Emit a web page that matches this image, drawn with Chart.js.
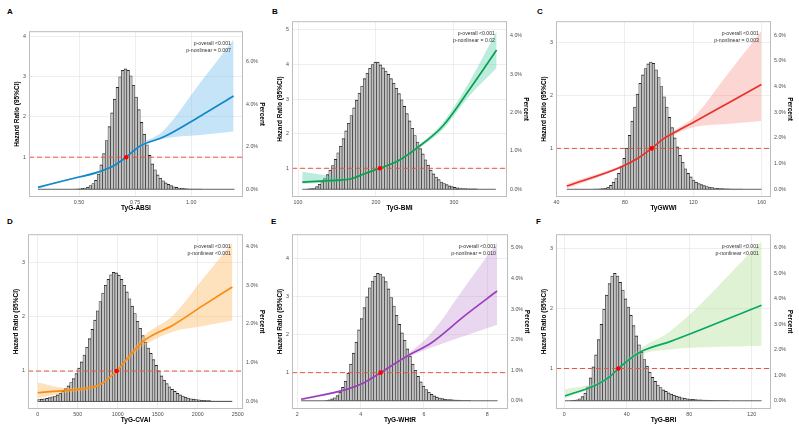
<!DOCTYPE html>
<html>
<head>
<meta charset="utf-8">
<title>TyG indices RCS</title>
<script src="https://cdn.jsdelivr.net/npm/chart.js@4.4.1/dist/chart.umd.min.js"></script>
<style>
  html, body { margin: 0; padding: 0; background: #fff; }
  body { width: 799px; height: 430px; position: relative; overflow: hidden; font-family: "Liberation Sans", Arial, sans-serif; }
  canvas { position: absolute; }
  .tag { position: absolute; font-size: 8px; line-height: 8px; font-weight: bold; color: #000; }
</style>
</head>
<body>
<div class="tag" style="left:7px;top:8px">A</div>
<div class="tag" style="left:272px;top:8px">B</div>
<div class="tag" style="left:537px;top:8px">C</div>
<div class="tag" style="left:7px;top:218px">D</div>
<div class="tag" style="left:271px;top:218px">E</div>
<div class="tag" style="left:536px;top:218px">F</div>
<script>
// ---- spline estimates: x, hazard ratio, 95% CI ----
const absiX  = [0.317, 0.45, 0.585, 0.653, 0.71, 0.772, 0.876, 1.04, 1.189];
const absiHR = [0.25, 0.44, 0.63, 0.78, 1.0, 1.28, 1.50, 2.02, 2.52];
const absiLo = [0.22, 0.42, 0.61, 0.76, 0.99, 1.24, 1.456, 1.55, 1.64];
const absiHi = [0.28, 0.46, 0.65, 0.80, 1.01, 1.32, 1.66, 2.85, 3.93];

const bmiX  = [105.5, 140, 166.7, 186, 205, 228.6, 252, 286, 320.5, 354.7];
const bmiHR = [0.6, 0.645, 0.69, 0.85, 1.0, 1.22, 1.575, 2.23, 3.30, 4.42];
const bmiLo = [0.55, 0.6, 0.665, 0.83, 0.99, 1.19, 1.53, 2.13, 3.11, 3.9];
const bmiHi = [0.9, 0.78, 0.705, 0.87, 1.01, 1.25, 1.62, 2.33, 3.53, 4.97];

const wwiX  = [46, 78.1, 87.8, 95.6, 102.4, 108.2, 119.9, 139.4, 159.8];
const wwiHR = [0.287, 0.653, 0.817, 1.0, 1.18, 1.287, 1.49, 1.84, 2.21];
const wwiLo = [0.24, 0.63, 0.8, 0.99, 1.15, 1.25, 1.40, 1.46, 1.52];
const wwiHi = [0.33, 0.68, 0.835, 1.01, 1.21, 1.33, 1.58, 2.38, 3.22];

const cvaiX  = [0, 362, 612, 779, 987, 1154, 1320, 1695, 2070, 2433];
const cvaiHR = [0.6, 0.643, 0.68, 0.75, 1.0, 1.286, 1.55, 1.85, 2.21, 2.55];
const cvaiLo = [0.5, 0.6, 0.65, 0.73, 0.98, 1.24, 1.46, 1.73, 1.83, 1.93];
const cvaiHi = [0.79, 0.69, 0.71, 0.77, 1.02, 1.33, 1.64, 2.03, 2.71, 3.37];

const whtrX  = [2.12, 3.56, 4.14, 4.63, 5.5, 6.24, 7.3, 8.31];
const whtrHR = [0.30, 0.56, 0.75, 1.0, 1.45, 1.79, 2.51, 3.15];
const whtrLo = [0.27, 0.54, 0.73, 0.99, 1.40, 1.66, 1.97, 2.26];
const whtrHi = [0.33, 0.58, 0.77, 1.01, 1.50, 2.05, 3.27, 4.43];

const briX  = [0.45, 20.7, 29.2, 34.6, 42, 50.6, 67.6, 126.3];
const briHR = [0.54, 0.73, 0.865, 1.0, 1.16, 1.30, 1.45, 2.06];
const briLo = [0.5, 0.71, 0.85, 0.99, 1.13, 1.25, 1.32, 1.38];
const briHi = [0.65, 0.76, 0.88, 1.01, 1.2, 1.37, 1.62, 3.13];

// reference value (HR = 1) for each index
const refX = [0.71, 205, 95.6, 987, 4.63, 34.6];

// ---- histograms: [first bin edge, bin width] and percent per bin ----
const absiBin = [0.317, 0.012];
const absiHist = [0,0,0,0,0,0,0,0,0,0,0,0,0,0,
  0.01,0.02,0.04,0.06,0.1,0.18,0.27,0.42,0.72,1.15,1.68,2.3,2.95,3.6,4.25,4.8,5.3,5.6,5.67,5.6,
  5.35,4.9,4.35,3.75,3.15,2.6,2.1,1.6,1.2,0.92,0.68,0.52,0.4,0.3,0.23,0.17,0.12,0.09,0.06,0.05,0.03,0.02,
  0.01,0.01,0.01,0.01,0.01,0,0,0,0,0,0,0,0,0,0,0,0];

const bmiBin = [105.5, 3.4];
const bmiHist = [0,0,0.01,0.02,0.03,0.07,0.13,0.2,0.28,0.38,0.5,0.62,0.78,0.95,1.12,1.32,1.52,1.72,1.92,2.12,
  2.32,2.5,2.69,2.88,3.02,3.15,3.25,3.31,3.31,3.24,3.16,3.08,2.99,2.88,2.76,2.63,2.49,2.33,2.16,1.97,
  1.78,1.59,1.40,1.23,1.06,0.92,0.77,0.63,0.5,0.4,0.32,0.25,0.19,0.15,0.12,0.09,0.07,0.05,0.04,0.03,
  0.02,0.02,0.01,0.01,0.01,0.01,0,0,0,0,0,0,0];

const wwiBin = [46, 1.56];
const wwiHist = [0,0,0,0,0,0,0,0,0,0,
  0.01,0.01,0.02,0.03,0.04,0.08,0.15,0.28,0.42,0.62,0.9,1.2,1.6,2.1,2.65,3.2,3.7,4.12,4.45,4.7,
  4.88,4.95,4.9,4.65,4.35,4.0,3.6,3.2,2.8,2.4,2.0,1.65,1.32,1.05,0.8,0.62,0.48,0.36,0.28,0.22,
  0.18,0.14,0.11,0.09,0.07,0.05,0.04,0.03,0.03,0.02,0.02,0.01,0.01,0.01,0.01,0.01,0,0,0,0,0,0,0];

const cvaiBin = [0, 33.3];
const cvaiHist = [0.05,0.06,0.07,0.08,0.1,0.12,0.14,0.17,0.21,0.26,0.33,0.4,0.49,0.59,0.72,0.86,1.02,1.2,1.4,1.62,
  1.86,2.1,2.34,2.58,2.8,3.0,3.15,3.27,3.33,3.32,3.26,3.15,3.0,2.83,2.65,2.46,2.27,2.07,1.89,1.7,
  1.53,1.38,1.24,1.08,0.93,0.79,0.66,0.55,0.46,0.38,0.31,0.26,0.21,0.17,0.14,0.11,0.09,0.07,0.06,0.05,
  0.04,0.03,0.03,0.02,0.02,0.01,0.01,0.01,0.01,0.01,0.01,0.01,0.01];

const whtrBin = [2.12, 0.085];
const whtrHist = [0,0,0,0,0,0,0,0,0,
  0.01,0.03,0.06,0.1,0.17,0.28,0.44,0.64,0.9,1.2,1.56,1.92,2.32,2.69,3.05,3.4,3.7,3.92,4.08,4.17,
  4.15,4.06,3.9,3.66,3.38,3.1,2.8,2.5,2.22,1.98,1.7,1.46,1.2,1.0,0.8,0.62,0.48,0.37,0.28,0.21,
  0.16,0.12,0.09,0.07,0.05,0.04,0.04,0.03,0.02,0.02,0.01,0.01,0.01,0.01,0,0,0,0,0,0,0,0,0,0];

const briBin = [0.45, 1.724];
const briHist = [0,0,0.01,0.02,0.04,0.08,0.16,0.3,0.55,0.9,1.33,1.8,2.4,3.0,3.6,4.15,4.6,4.9,5.0,4.9,
  4.65,4.35,4.0,3.68,3.35,2.95,2.55,2.2,1.9,1.62,1.36,1.12,0.92,0.76,0.62,0.52,0.43,0.37,0.31,0.26,
  0.22,0.18,0.15,0.12,0.1,0.08,0.07,0.06,0.05,0.04,0.04,0.03,0.03,0.02,0.02,
  0.01,0.01,0.01,0.01,0.01,0.01,0,0,0,0,0,0,0,0,0,0,0,0];

// ---- axes ----
const absiTicks = [0.5, 0.75, 1.0];   const absiTickLabels = ['0.50', '0.75', '1.00'];
const bmiTicks  = [100, 200, 300];    const bmiTickLabels  = ['100', '200', '300'];
const wwiTicks  = [40, 80, 120, 160]; const wwiTickLabels  = ['40', '80', '120', '160'];
const cvaiTicks = [0, 500, 1000, 1500, 2000, 2500];
const cvaiTickLabels = ['0', '500', '1000', '1500', '2000', '2500'];
const whtrTicks = [2, 4, 6, 8];       const whtrTickLabels = ['2', '4', '6', '8'];
const briTicks  = [0, 40, 80, 120];   const briTickLabels  = ['0', '40', '80', '120'];

const xTitles = ['TyG-ABSI', 'TyG-BMI', 'TyGWWI', 'TyG-CVAI', 'TyG-WHtR', 'TyG-BRI'];
const pOverall = ['p-overall <0.001', 'p-overall <0.001', 'p-overall <0.001',
                  'p-overall <0.001', 'p-overall <0.001', 'p-overall <0.001'];
const pNonlinear = ['p-nonlinear = 0.007', 'p-nonlinear = 0.02', 'p-nonlinear = 0.003',
                    'p-nonlinear <0.001', 'p-nonlinear = 0.010', 'p-nonlinear <0.001'];

const panels = [
  { box: [29, 25, 243, 197], x: absiX, hr: absiHR, lo: absiLo, hi: absiHi, bin: absiBin, hist: absiHist,
    xr: [0.277, 1.231], hrr: [0.01, 4.134], pr: [-0.364, 7.45], xt: absiTicks, xl: absiTickLabels,
    ht: [1, 2, 3, 4], pt: [0, 2, 4, 6], line: '#1287c9', band: 'rgba(120,190,235,0.42)' },
  { box: [292, 15, 507, 197], x: bmiX, hr: bmiHR, lo: bmiLo, hi: bmiHi, bin: bmiBin, hist: bmiHist,
    xr: [92.3, 368], hrr: [0.17, 5.254], pr: [-0.201, 4.377], xt: bmiTicks, xl: bmiTickLabels,
    ht: [1, 2, 3, 4, 5], pt: [0, 1, 2, 3, 4], line: '#0c9f4c', band: 'rgba(60,200,160,0.35)' },
  { box: [556, 15, 771, 197], x: wwiX, hr: wwiHR, lo: wwiLo, hi: wwiHi, bin: wwiBin, hist: wwiHist,
    xr: [39.7, 165.4], hrr: [0.08, 3.408], pr: [-0.30, 6.54], xt: wwiTicks, xl: wwiTickLabels,
    ht: [1, 2, 3], pt: [0, 1, 2, 3, 4, 5, 6], line: '#e8312b', band: 'rgba(245,120,110,0.3)' },
  { box: [28, 228, 243, 408.5], x: cvaiX, hr: cvaiHR, lo: cvaiLo, hi: cvaiHi, bin: cvaiBin, hist: cvaiHist,
    xr: [-121, 2566], hrr: [0.30, 3.523], pr: [-0.195, 4.318], xt: cvaiTicks, xl: cvaiTickLabels,
    ht: [1, 2, 3], pt: [0, 1, 2, 3, 4], line: '#fb8c12', band: 'rgba(253,180,90,0.4)' },
  { box: [292, 228, 508, 408.5], x: whtrX, hr: whtrHR, lo: whtrLo, hi: whtrHi, bin: whtrBin, hist: whtrHist,
    xr: [1.833, 8.654], hrr: [0.043, 4.648], pr: [-0.269, 5.452], xt: whtrTicks, xl: whtrTickLabels,
    ht: [1, 2, 3, 4], pt: [0, 1, 2, 3, 4, 5], line: '#9b3fbd', band: 'rgba(190,140,210,0.35)' },
  { box: [556, 228, 771, 408.5], x: briX, hr: briHR, lo: briLo, hi: briHi, bin: briBin, hist: briHist,
    xr: [-5.3, 132.3], hrr: [0.3225, 3.248], pr: [-0.323, 6.54], xt: briTicks, xl: briTickLabels,
    ht: [1, 2, 3], pt: [0, 1, 2, 3, 4, 5, 6], line: '#0aa66b', band: 'rgba(170,220,140,0.38)' }
];

Chart.defaults.font.family = '"Liberation Sans", Arial, sans-serif';

const tickFont = { size: 5.3 };
const tickColor = '#4d4d4d';
const titleFont = { size: 6.5, weight: 'bold' };
const gridColor = '#e6e6e6';

// frame around the plot area + p-value notes
const framePlugin = {
  id: 'frame',
  afterDatasetsDraw(chart) {
    const a = chart.chartArea, ctx = chart.ctx;
    ctx.save();
    ctx.strokeStyle = '#bdbdbd';
    ctx.lineWidth = 1;
    ctx.strokeRect(a.left + 0.5, a.top + 0.5, a.right - a.left - 1, a.bottom - a.top - 1);
    ctx.restore();
  }
};
const notePlugin = {
  id: 'pnote',
  afterDraw(chart, args, opts) {
    const a = chart.chartArea, ctx = chart.ctx;
    ctx.save();
    ctx.font = '5.2px "Liberation Sans", Arial, sans-serif';
    ctx.fillStyle = '#333';
    ctx.textAlign = 'right';
    ctx.textBaseline = 'middle';
    (opts.lines || []).forEach((t, i) => ctx.fillText(t, a.right - 12, a.top + 12.5 + 7 * i));
    ctx.restore();
  }
};

function pts(xs, ys) {
  return xs.map((x, i) => ({ x: x, y: ys[i] }));
}
function histPts(bin, vals) {
  return vals.map((v, i) => ({ x: bin[0] + bin[1] * (i + 0.5), y: v }));
}

panels.forEach((p, k) => {
  const [l, t, r, b] = p.box;
  const cv = document.createElement('canvas');
  cv.width = Math.round(r - l + 48);
  cv.height = Math.round(b - t + 20);
  cv.style.left = (l - 24) + 'px';
  cv.style.top = t + 'px';
  document.body.appendChild(cv);

  const histEnd = p.bin[0] + p.bin[1] * p.hist.length;

  new Chart(cv, {
    type: 'bar',
    data: {
      datasets: [
        {
          type: 'bar', yAxisID: 'y2', data: histPts(p.bin, p.hist),
          backgroundColor: '#c2c2c2', borderColor: '#262626',
          borderWidth: { top: 0.9, left: 0.6, right: 0.6, bottom: 0 },
          barPercentage: 1, categoryPercentage: 1, order: 6
        },
        {
          type: 'line', yAxisID: 'y2', data: [{ x: p.bin[0], y: 0 }, { x: histEnd, y: 0 }],
          borderColor: '#3a3a3a', borderWidth: 0.8, pointRadius: 0, order: 5
        },
        {
          type: 'line', yAxisID: 'y', data: pts(p.x, p.lo),
          borderWidth: 0, pointRadius: 0, fill: false, cubicInterpolationMode: 'monotone', order: 4
        },
        {
          type: 'line', yAxisID: 'y', data: pts(p.x, p.hi),
          borderWidth: 0, pointRadius: 0, fill: '-1', backgroundColor: p.band,
          cubicInterpolationMode: 'monotone', order: 4
        },
        {
          type: 'line', yAxisID: 'y', data: [{ x: p.xr[0], y: 1 }, { x: p.xr[1], y: 1 }],
          borderColor: '#e9553f', borderWidth: 1, borderDash: [5, 3], pointRadius: 0, order: 3
        },
        {
          type: 'line', yAxisID: 'y', data: pts(p.x, p.hr),
          borderColor: p.line, borderWidth: 1.7, pointRadius: 0,
          cubicInterpolationMode: 'monotone', order: 2
        },
        {
          type: 'line', yAxisID: 'y', data: [{ x: refX[k], y: 1 }], showLine: false,
          pointRadius: 2.3, pointBackgroundColor: '#ff0000', pointBorderWidth: 0, order: 1
        }
      ]
    },
    options: {
      responsive: false,
      animation: false,
      events: [],
      layout: { padding: 0, autoPadding: false },
      plugins: {
        legend: { display: false },
        tooltip: { enabled: false },
        pnote: { lines: [pOverall[k], pNonlinear[k]] }
      },
      scales: {
        x: {
          type: 'linear', min: p.xr[0], max: p.xr[1], offset: false,
          afterBuildTicks: s => { s.ticks = p.xt.map(v => ({ value: v })); },
          afterFit: s => { s.height = 20; },
          ticks: { autoSkip: false, maxRotation: 0, font: tickFont, color: tickColor, padding: 1.9,
                   callback: (v, i) => p.xl[i] },
          grid: { color: gridColor, lineWidth: 0.7, drawTicks: false, offset: false },
          border: { display: false },
          title: { display: true, text: xTitles[k], font: titleFont, color: '#000',
                   padding: { top: 0, bottom: 5.1 } }
        },
        y: {
          position: 'left', min: p.hrr[0], max: p.hrr[1], beginAtZero: false,
          afterBuildTicks: s => { s.ticks = p.ht.map(v => ({ value: v })); },
          afterFit: s => { s.width = 24; },
          ticks: { font: tickFont, color: tickColor, padding: 3, callback: v => String(v) },
          grid: { color: gridColor, lineWidth: 0.7, drawTicks: false },
          border: { display: false },
          title: { display: true, text: 'Hazard Ratio (95%CI)', font: titleFont, color: '#000',
                   padding: { top: 8.6, bottom: 0 } }
        },
        y2: {
          position: 'right', min: p.pr[0], max: p.pr[1], beginAtZero: false,
          afterBuildTicks: s => { s.ticks = p.pt.map(v => ({ value: v })); },
          afterFit: s => { s.width = 24; },
          ticks: { font: tickFont, color: tickColor, padding: 3, callback: v => v.toFixed(1) + '%' },
          grid: { display: false, drawTicks: false },
          border: { display: false },
          title: { display: true, text: 'Percent', font: titleFont, color: '#000',
                   padding: { top: 1.6, bottom: 0 } }
        }
      }
    },
    plugins: [framePlugin, notePlugin]
  });
});
</script>
</body>
</html>
